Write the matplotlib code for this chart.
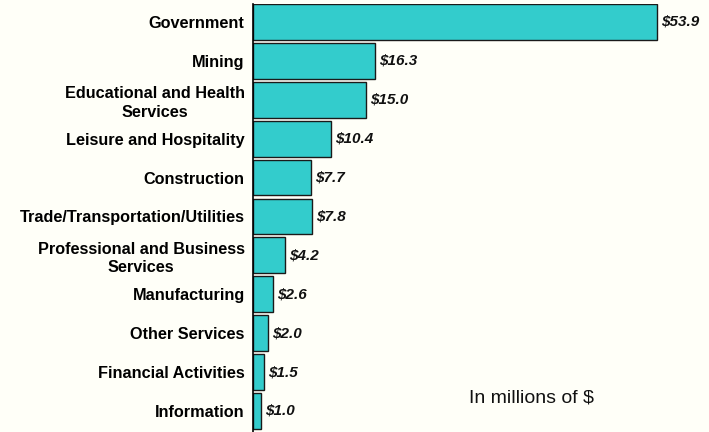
import matplotlib.pyplot as plt
from matplotlib import font_manager as fm
import numpy as np

# --- data ---
sectors = ['Government', 'Mining', 'Educational and Health\nServices',
           'Leisure and Hospitality', 'Construction',
           'Trade/Transportation/Utilities',
           'Professional and Business\nServices', 'Manufacturing',
           'Other Services', 'Financial Activities', 'Information']
values = [53.9, 16.3, 15.0, 10.4, 7.7, 7.8, 4.2, 2.6, 2.0, 1.5, 1.0]

bg = '#FFFFF8'
bar_color = '#33CCCC'


# pick the regular-width Liberation Sans files (avoid the Narrow variant)
def lib_font(style):
    for f in fm.fontManager.ttflist:
        base = f.fname.split('/')[-1]
        if base == f'LiberationSans-{style}.ttf':
            return fm.FontProperties(fname=f.fname)
    return fm.FontProperties(family='DejaVu Sans')


fp_bold = lib_font('Bold')
fp_bi = lib_font('BoldItalic')
fp_reg = lib_font('Regular')

fig = plt.figure(figsize=(7.09, 4.32), dpi=100, facecolor=bg)
ax = fig.add_axes([253 / 709, 0.0, 1 - 253 / 709, 428 / 432])
ax.set_facecolor(bg)

y = np.arange(len(sectors))
bars = ax.barh(y, values, height=0.92, color=bar_color,
               edgecolor='#1a1a1a', linewidth=1.0)

ax.set_ylim(len(sectors) - 0.46, -0.46)
ax.set_xlim(0, 60.8)

ax.set_yticks(y)
ax.set_yticklabels(sectors, fontproperties=fp_bold, linespacing=1.3)
for t in ax.get_yticklabels():
    t.set_fontsize(11.7)
    t.set_multialignment('center')
ax.tick_params(axis='y', length=0, pad=6)
ax.set_xticks([])

for s in ['top', 'right', 'bottom']:
    ax.spines[s].set_visible(False)
ax.spines['left'].set_linewidth(1.2)
ax.spines['left'].set_color('black')

# value labels
for b, v in zip(bars, values):
    ax.annotate(f'${v:.1f}', (b.get_width(), b.get_y() + b.get_height() / 2),
                xytext=(3, 0), textcoords='offset points', va='center',
                ha='left', fontproperties=fp_bi, fontsize=11, color='#111111')

fig.text(469 / 709, 1 - 398 / 432, 'In millions of $', fontproperties=fp_reg,
         fontsize=14, va='center', ha='left', color='#111111')

fig.savefig('out.png', dpi=100, facecolor=bg)
